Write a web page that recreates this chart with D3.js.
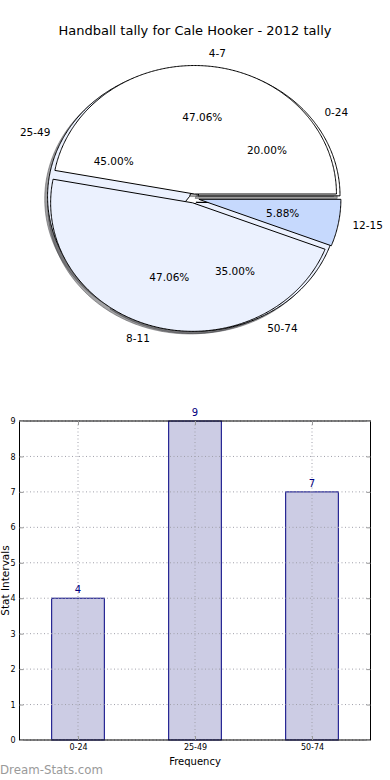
<!DOCTYPE html>
<html>
<head>
<meta charset="utf-8">
<script src="https://cdn.jsdelivr.net/npm/d3@7"></script>
<style>
  html, body { margin: 0; padding: 0; background: #fff; }
  svg { display: block; font-family: "DejaVu Sans", sans-serif; }
</style>
</head>
<body>
<svg id="chart" width="390" height="780"></svg>
<script>
// ---- data ----
const title = "Handball tally for Cale Hooker - 2012 tally";
const pieTopLabels = ["4-7", "8-11", "12-15"];
const pieTopValues = [8, 8, 1];
const pieUnderLabels = ["0-24", "25-49", "50-74"];
const pieUnderValues = [4, 9, 7];
const barCategories = ["0-24", "25-49", "50-74"];
const barValues = [4, 9, 7];
const yTicks = [0, 1, 2, 3, 4, 5, 6, 7, 8, 9];
const xAxisTitle = "Frequency";
const yAxisTitle = "Stat Intervals";
const watermark = "Dream-Stats.com";

const pieTopColors = ["#ffffff", "#ebf1fe", "#c6d9fd"];
const pieUnderColors = ["#ffffff", "#ebf1fe", "#ebf1fe"];

const svg = d3.select("#chart");

// title
svg.append("text").attr("x", 195).attr("y", 35).attr("text-anchor", "middle")
  .attr("font-size", 13).attr("fill", "#000").text(title);

// ---- pie (elliptical, matplotlib-like data coordinates) ----
const cx = 194, cy = 198.5, rx = 142, ry = 128.5;
const px = d3.scaleLinear().domain([-1, 1]).range([cx - rx, cx + rx]);
const py = d3.scaleLinear().domain([-1, 1]).range([cy + ry, cy - ry]);
const explode = 0.035;
const shadowOff = 0.02;

const pieGen = d3.pie().sort(null).startAngle(0).endAngle(2 * Math.PI);

function wedgeData(values, labels, colors) {
  const total = d3.sum(values);
  return pieGen(values).map((d, i) => {
    const mid = (d.startAngle + d.endAngle) / 2;
    return {
      a0: d.startAngle, a1: d.endAngle, mid,
      ox: explode * Math.cos(mid), oy: explode * Math.sin(mid),
      label: labels[i], color: colors[i],
      pct: (100 * values[i] / total).toFixed(2) + "%"
    };
  });
}

function wedgePath(w, dx, dy) {
  const pts = [[w.ox + dx, w.oy + dy]];
  const n = Math.max(2, Math.ceil((w.a1 - w.a0) / 0.01));
  for (let k = 0; k <= n; k++) {
    const t = w.a0 + (w.a1 - w.a0) * k / n;
    pts.push([w.ox + dx + Math.cos(t), w.oy + dy + Math.sin(t)]);
  }
  return d3.line().x(p => px(p[0])).y(p => py(p[1]))(pts) + "Z";
}

const underWedges = wedgeData(pieUnderValues, pieUnderLabels, pieUnderColors);
const topWedges = wedgeData(pieTopValues, pieTopLabels, pieTopColors);

function shadowColor(c) {
  const r = d3.rgb(c);
  return d3.rgb(r.r * 0.3, r.g * 0.3, r.b * 0.3).toString();
}

const gPie = svg.append("g");
[underWedges, topWedges].forEach(ws => {
  gPie.selectAll(null).data(ws).enter().append("path")
    .attr("d", w => wedgePath(w, -shadowOff, -shadowOff))
    .attr("fill", w => shadowColor(w.color)).attr("fill-opacity", 0.5)
    .attr("stroke", w => shadowColor(w.color)).attr("stroke-opacity", 0.5)
    .attr("stroke-width", 1);
});
[underWedges, topWedges].forEach(ws => {
  gPie.selectAll(null).data(ws).enter().append("path")
    .attr("d", w => wedgePath(w, 0, 0))
    .attr("fill", w => w.color).attr("stroke", "#000").attr("stroke-width", 1)
    .attr("stroke-linejoin", "miter");
});
[underWedges, topWedges].forEach(ws => {
  ws.forEach(w => {
    const lx = w.ox + 1.1 * Math.cos(w.mid), ly = w.oy + 1.1 * Math.sin(w.mid);
    gPie.append("text").attr("x", px(lx)).attr("y", py(ly)).attr("dy", "0.35em")
      .attr("text-anchor", lx > 0 ? "start" : "end").attr("font-size", 10.5)
      .attr("fill", "#000").text(w.label);
    const tx = w.ox + 0.6 * Math.cos(w.mid), ty = w.oy + 0.6 * Math.sin(w.mid);
    gPie.append("text").attr("x", px(tx)).attr("y", py(ty)).attr("dy", "0.35em")
      .attr("text-anchor", "middle").attr("font-size", 10.5)
      .attr("fill", "#000").text(w.pct);
  });
});

// ---- bar chart ----
const L = 19.5, R = 370.5, T = 421, B = 740;
const x = d3.scaleLinear().domain([-0.5, 2.5]).range([L, R]);
const y = d3.scaleLinear().domain([0, 9]).range([B, T]);
const barW = 0.45;
const gBar = svg.append("g");

// bars
gBar.selectAll(null).data(barValues).enter().append("rect")
  .attr("x", (d, i) => x(i - barW / 2)).attr("width", (d, i) => x(i + barW / 2) - x(i - barW / 2))
  .attr("y", d => y(d)).attr("height", d => y(0) - y(d))
  .attr("fill", "#cccce4").attr("stroke", "#000080").attr("stroke-width", 1);
// dotted grid
gBar.selectAll(null).data(barCategories).enter().append("line")
  .attr("x1", (d, i) => x(i)).attr("x2", (d, i) => x(i)).attr("y1", T).attr("y2", B)
  .attr("stroke", "#a0a0aa").attr("stroke-width", 1).attr("stroke-dasharray", "1,2.5");
gBar.selectAll(null).data(yTicks).enter().append("line")
  .attr("x1", L).attr("x2", R).attr("y1", d => y(d)).attr("y2", d => y(d))
  .attr("stroke", "#a0a0aa").attr("stroke-width", 1).attr("stroke-dasharray", "1,2.5");

// value labels
gBar.selectAll(null).data(barValues).enter().append("text")
  .attr("x", (d, i) => x(i)).attr("y", d => y(d) - 5).attr("text-anchor", "middle")
  .attr("font-size", 10).attr("fill", "#000080").text(d => d);

// frame
gBar.append("rect").attr("x", L).attr("y", T).attr("width", R - L).attr("height", B - T)
  .attr("fill", "none").attr("stroke", "#000").attr("stroke-width", 1);

// axes (ticks inward)
const yAxisL = d3.axisLeft(y).tickValues(yTicks).tickSizeInner(-4).tickSizeOuter(0).tickPadding(4);
const gy = gBar.append("g").attr("transform", `translate(${L},0)`).call(yAxisL);
gy.select(".domain").remove();
gy.selectAll("line").attr("stroke", "#999");
gy.selectAll("text").attr("font-size", 8).attr("font-family", "DejaVu Sans");
const yAxisR = d3.axisRight(y).tickValues(yTicks).tickSizeInner(-4).tickSizeOuter(0).tickFormat("");
const gyr = gBar.append("g").attr("transform", `translate(${R},0)`).call(yAxisR);
gyr.select(".domain").remove();
gyr.selectAll("line").attr("stroke", "#999");

const xAxisB = d3.axisBottom(x).tickValues([0, 1, 2]).tickFormat(i => barCategories[i])
  .tickSizeInner(-4).tickSizeOuter(0).tickPadding(4);
const gx = gBar.append("g").attr("transform", `translate(0,${B})`).call(xAxisB);
gx.select(".domain").remove();
gx.selectAll("line").attr("stroke", "#999");
gx.selectAll("text").attr("font-size", 8).attr("font-family", "DejaVu Sans");
const xAxisT = d3.axisTop(x).tickValues([0, 1, 2]).tickFormat("").tickSizeInner(-4).tickSizeOuter(0);
const gxt = gBar.append("g").attr("transform", `translate(0,${T})`).call(xAxisT);
gxt.select(".domain").remove();
gxt.selectAll("line").attr("stroke", "#999");

// axis titles
svg.append("text").attr("x", 195).attr("y", 765).attr("text-anchor", "middle")
  .attr("font-size", 10).attr("fill", "#000").text(xAxisTitle);
svg.append("text").attr("transform", `translate(9,${(T + B) / 2}) rotate(-90)`)
  .attr("text-anchor", "middle").attr("font-size", 10.5).attr("fill", "#000").text(yAxisTitle);

// watermark
svg.append("text").attr("x", 0).attr("y", 774).attr("font-size", 11.8)
  .attr("fill", "#9a9a9a").text(watermark);
</script>
</body>
</html>
